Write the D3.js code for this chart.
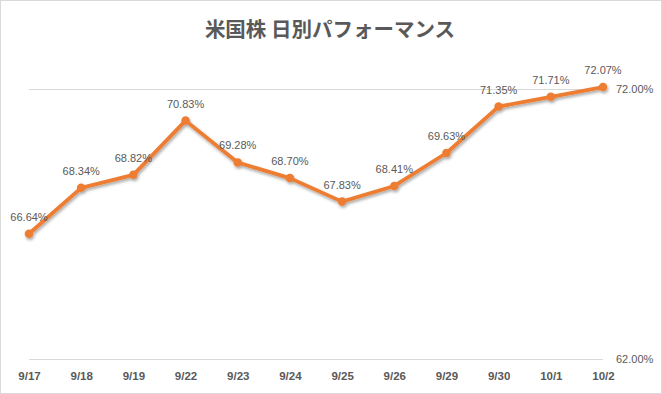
<!DOCTYPE html>
<html><head><meta charset="utf-8">
<script src="https://cdn.jsdelivr.net/npm/d3@7"></script>
<style>html,body{margin:0;padding:0;background:#fff;}svg{display:block;}</style>
</head><body>
<svg id="c" width="662" height="394"></svg>
<script>
const title = "米国株 日別パフォーマンス";
const categories = ["9/17","9/18","9/19","9/22","9/23","9/24","9/25","9/26","9/29","9/30","10/1","10/2"];
const values = [66.64,68.34,68.82,70.83,69.28,68.70,67.83,68.41,69.63,71.35,71.71,72.07];
const yTicks = [62, 72];

const svg = d3.select("#c");
const W = 662, H = 394;
const defs = svg.append("defs");
const f = defs.append("filter").attr("id","sh").attr("x","-10%").attr("y","-10%").attr("width","120%").attr("height","130%");
f.append("feDropShadow").attr("dx",1).attr("dy",2).attr("stdDeviation",1.5).attr("flood-color","#000").attr("flood-opacity",0.35);

svg.append("rect").attr("x",0.5).attr("y",0.5).attr("width",W-1).attr("height",H-1)
  .attr("fill","#fff").attr("stroke","#d9d9d9");

const x = d3.scalePoint().domain(categories).range([29, 603]);
const y = d3.scaleLinear().domain([62, 72]).range([359, 89]);

const txt = "#595959";
svg.append("text").attr("x",330).attr("y",37).attr("text-anchor","middle")
  .attr("font-family","'Noto Sans CJK JP', sans-serif").attr("font-size",20.5).attr("font-weight",600)
  .attr("fill",txt).text(title);

// gridlines
svg.append("g").selectAll("line").data(yTicks).join("line")
  .attr("x1",x.range()[0]).attr("x2",x.range()[1])
  .attr("y1",d=>Math.round(y(d))+0.5).attr("y2",d=>Math.round(y(d))+0.5)
  .attr("stroke","#d9d9d9").attr("stroke-width",1);

// right axis
const yAxis = d3.axisRight(y).tickValues(yTicks).tickSize(0).tickPadding(0).tickFormat(d=>d.toFixed(2)+"%");
const ga = svg.append("g").attr("transform","translate(616,0)").call(yAxis);
ga.select(".domain").remove();
ga.selectAll("text").attr("font-family","'Liberation Sans', Arial, sans-serif").attr("font-size",11).attr("fill",txt);

// x axis
const xAxis = d3.axisBottom(x).tickSize(0).tickPadding(0);
const gx = svg.append("g").attr("transform","translate(0,372)").call(xAxis);
gx.select(".domain").remove();
gx.selectAll("text").attr("font-family","'Liberation Sans', Arial, sans-serif").attr("font-size",11.5)
  .attr("font-weight","bold").attr("fill",txt);

// line
const line = d3.line().x((d,i)=>x(categories[i])).y(d=>y(d));
const g = svg.append("g").attr("filter","url(#sh)");
g.append("path").datum(values).attr("d",line).attr("fill","none")
  .attr("stroke","#ED7D31").attr("stroke-width",3.75).attr("stroke-linejoin","round");
g.selectAll("circle").data(values).join("circle")
  .attr("cx",(d,i)=>x(categories[i])).attr("cy",d=>y(d)).attr("r",4.25).attr("fill","#ED7D31");

// data labels
svg.append("g").selectAll("text").data(values).join("text")
  .attr("x",(d,i)=>x(categories[i])).attr("y",d=>y(d)-13)
  .attr("text-anchor","middle").attr("font-family","'Liberation Sans', Arial, sans-serif")
  .attr("font-size",11).attr("fill",txt).text(d=>d.toFixed(2)+"%");
</script>
</body></html>
